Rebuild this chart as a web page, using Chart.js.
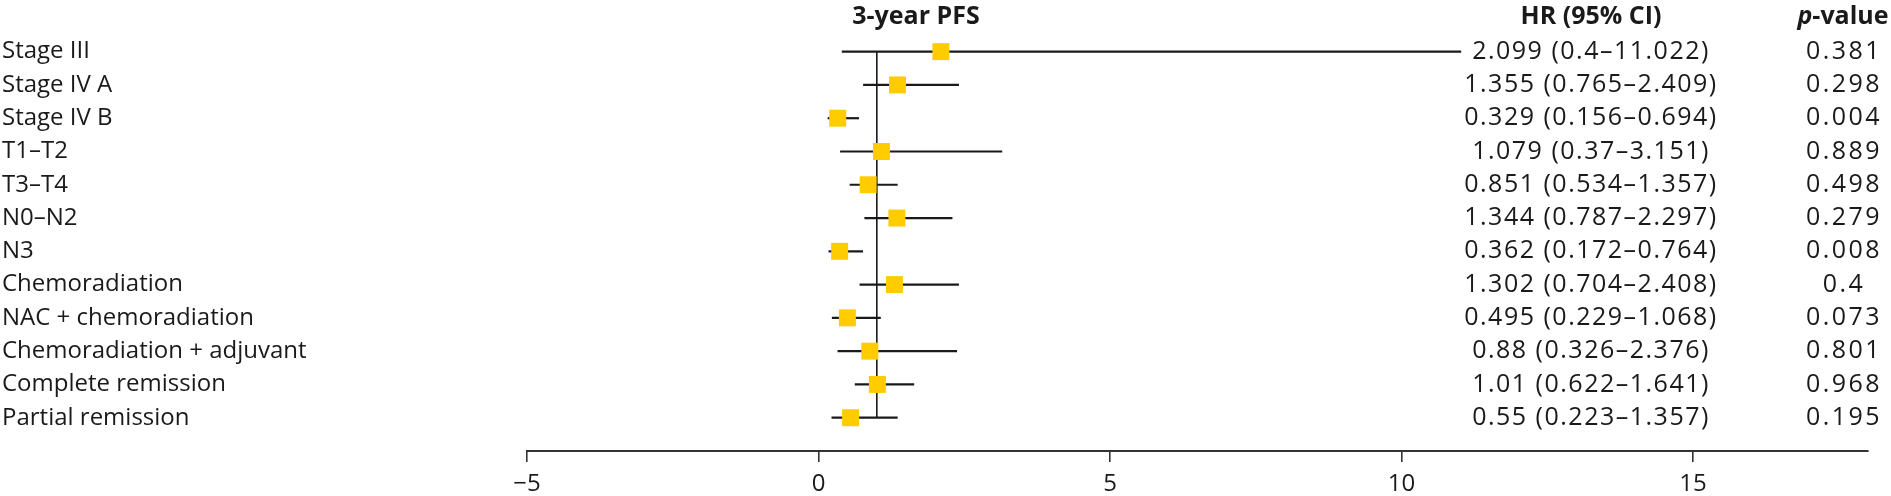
<!DOCTYPE html>
<html>
<head>
<meta charset="utf-8">
<script src="https://cdn.jsdelivr.net/npm/chart.js@4.4.1/dist/chart.umd.min.js"></script>
<style>
  html, body { margin: 0; padding: 0; background: #fff; }
  #wrap { width: 1891px; height: 496px; }
</style>
</head>
<body>
<div id="wrap"><canvas id="forest"></canvas></div>
<script>
"use strict";

var rowLabels = [
	'Stage III',
	'Stage IV A',
	'Stage IV B',
	'T1\u2013T2',
	'T3\u2013T4',
	'N0\u2013N2',
	'N3',
	'Chemoradiation',
	'NAC + chemoradiation',
	'Chemoradiation + adjuvant',
	'Complete remission',
	'Partial remission'
];
var hrValues = [2.099, 1.355, 0.329, 1.079, 0.851, 1.344, 0.362, 1.302, 0.495, 0.88, 1.01, 0.55];
var ciLow = [0.4, 0.765, 0.156, 0.37, 0.534, 0.787, 0.172, 0.704, 0.229, 0.326, 0.622, 0.223];
var ciHigh = [11.022, 2.409, 0.694, 3.151, 1.357, 2.297, 0.764, 2.408, 1.068, 2.376, 1.641, 1.357];
var pValues = ['0.381', '0.298', '0.004', '0.889', '0.498', '0.279', '0.008', '0.4', '0.073', '0.801', '0.968', '0.195'];
var xTicks = [-5, 0, 5, 10, 15];

var FONT = '"Open Sans", "Noto Sans", sans-serif';
var INK = '#1a1a1a';

// squares first so they sit on top of the lines
var datasets = [{
	type: 'scatter',
	data: hrValues.map(function (v, i) { return { x: v, y: i }; }),
	pointStyle: 'rect',
	pointRadius: 12,
	pointBorderWidth: 0,
	backgroundColor: '#ffcc00',
	borderColor: '#ffcc00'
}, {
	type: 'line',
	data: [{ x: 1, y: 0 }, { x: 1, y: rowLabels.length - 1 }],
	borderColor: INK,
	borderWidth: 1.6,
	pointRadius: 0
}];

rowLabels.forEach(function (lab, i) {
	datasets.push({
		type: 'line',
		data: [{ x: ciLow[i], y: i }, { x: ciHigh[i], y: i }],
		borderColor: INK,
		borderWidth: 2.2,
		pointRadius: 0
	});
});

var columnText = {
	id: 'columnText',
	afterDraw: function (chart) {
		var ctx = chart.ctx;
		var ys = chart.scales.y;
		ctx.save();
		ctx.fillStyle = INK;
		ctx.textAlign = 'center';
		ctx.textBaseline = 'alphabetic';

		ctx.font = 'bold 25px ' + FONT;
		ctx.fillText('3-year PFS', 916, 24);
		ctx.fillText('HR (95% CI)', 1591, 24);

		// p-value header, italic p
		var pPart = 'p', rest = '-value';
		ctx.font = 'italic bold 25px ' + FONT;
		var w1 = ctx.measureText(pPart).width;
		ctx.font = 'bold 25px ' + FONT;
		var w2 = ctx.measureText(rest).width;
		var start = 1843 - (w1 + w2) / 2;
		ctx.textAlign = 'left';
		ctx.font = 'italic bold 25px ' + FONT;
		ctx.fillText(pPart, start, 24);
		ctx.font = 'bold 25px ' + FONT;
		ctx.fillText(rest, start + w1, 24);

		// numeric columns are set a little loosely in the original
		ctx.textAlign = 'center';
		ctx.textBaseline = 'middle';
		ctx.font = '25px ' + FONT;
		rowLabels.forEach(function (lab, i) {
			var y = ys.getPixelForValue(i);
			ctx.letterSpacing = '1.5px';
			ctx.fillText(hrValues[i] + ' (' + ciLow[i] + '\u2013' + ciHigh[i] + ')', 1591, y);
			ctx.letterSpacing = '2.5px';
			ctx.fillText(pValues[i], 1844, y);
		});
		ctx.restore();
	}
};

var ctx = document.getElementById('forest').getContext('2d');
var forest = new Chart(ctx, {
	data: { datasets: datasets },
	options: {
		responsive: true,
		maintainAspectRatio: false,
		animation: false,
		layout: { padding: { top: 35, left: 2, right: 23, bottom: 0 } },
		plugins: {
			legend: { display: false },
			tooltip: { enabled: false }
		},
		scales: {
			x: {
				type: 'linear',
				position: 'bottom',
				min: -5,
				max: 18,
				afterBuildTicks: function (s) {
					s.ticks = xTicks.map(function (v) { return { value: v }; });
				},
				afterFit: function (s) { s.height = 45; },
				grid: {
					drawOnChartArea: false,
					drawTicks: true,
					tickLength: 11,
					color: '#333',
					lineWidth: 1.6
				},
				border: { display: true, color: '#333', width: 2 },
				ticks: {
					padding: 8,
					color: INK,
					font: { family: FONT, size: 24 },
					callback: function (v) { return v < 0 ? '\u2212' + Math.abs(v) : String(v); }
				}
			},
			y: {
				type: 'linear',
				position: 'left',
				reverse: true,
				min: -0.5,
				max: 12,
				afterBuildTicks: function (s) {
					s.ticks = rowLabels.map(function (l, i) { return { value: i }; });
				},
				afterFit: function (s) { s.width = 525; },
				grid: { display: false },
				border: { display: false },
				ticks: {
					autoSkip: false,
					crossAlign: 'far',
					color: INK,
					font: { family: FONT, size: 24 },
					callback: function (v) { return rowLabels[v]; }
				}
			}
		}
	},
	plugins: [columnText]
});
</script>
</body>
</html>
